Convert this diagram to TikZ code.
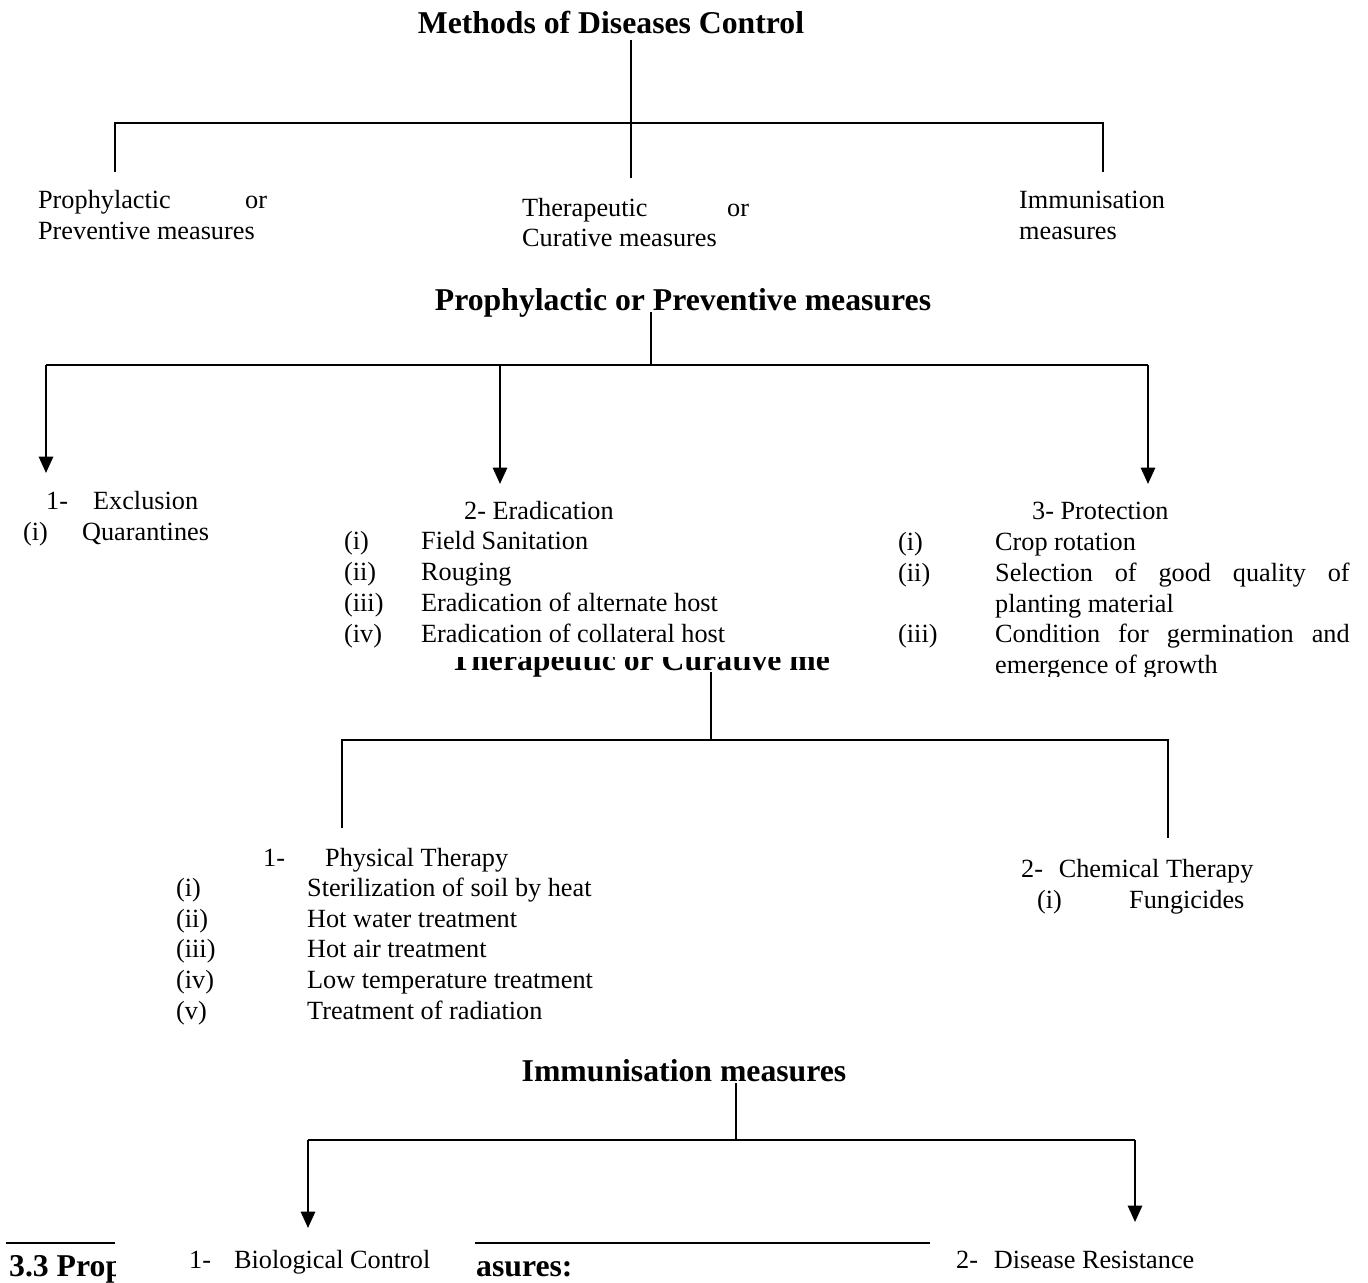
\documentclass[tikz,border=0pt]{standalone}
\usepackage{fontspec}
\setmainfont{Liberation Serif}
\usepackage{tikz}
\usetikzlibrary{arrows.meta}

\begin{document}
\begin{tikzpicture}[x=0.457pt,y=-0.457pt,line width=1.05pt,
  txt/.style={anchor=base west,inner sep=0pt,font=\fontsize{12}{14}\selectfont},
  ttl/.style={anchor=base,inner sep=0pt,font=\bfseries\fontsize{14.5}{17}\selectfont},
  arr/.style={-{Triangle[width=6.5pt,length=7.5pt]}}]
\useasboundingbox (0,0) rectangle (1368,1282);

% methods of control
\node[ttl] (methods) at (611,33) {Methods of Diseases Control};
\coordinate (m0) at (631,40);
\coordinate (m1) at (115,123); \coordinate (m2) at (631,123); \coordinate (m3) at (1103,123);
\coordinate (m1e) at (115,172); \coordinate (m2e) at (631,178); \coordinate (m3e) at (1103,172);
\draw (m0)--(m2e);
\draw (m1e)--(m1)--(m3)--(m3e);
\node[txt] (prophy) at (37,208) {\makebox[104.6pt][s]{Prophylactic\hfill or}};
\node[txt] (prophy2) at (37,239) {Preventive measures};
\node[txt] (thera) at (521,216) {\makebox[103.7pt][s]{Therapeutic\hfill or}};
\node[txt] (thera2) at (521,246) {Curative measures};
\node[txt] (immu) at (1018,208) {Immunisation};
\node[txt] (immu2) at (1018,239) {measures};

% prophylactic
\node[ttl] (prev) at (683,310) {Prophylactic or Preventive measures};
\coordinate (p0) at (651,312); \coordinate (p1) at (651,365);
\coordinate (pl) at (46,365); \coordinate (pm) at (500,365); \coordinate (pr) at (1148,365);
\coordinate (pla) at (46,473); \coordinate (pma) at (500,484); \coordinate (pra) at (1148,484);
\draw (p0)--(p1);
\draw (pl)--(pr);
\draw[arr] (pl)--(pla);
\draw[arr] (pm)--(pma);
\draw[arr] (pr)--(pra);

\node[txt] (excl1) at (45,509) {1-};
\node[txt] (excl) at (92,509) {Exclusion};
\node[txt] (quar1) at (22,540) {(i)};
\node[txt] (quar) at (81,540) {Quarantines};

% therapeutic title, half hidden
\begin{scope}
\clip (0,657) rectangle (830,700);
\node[ttl,anchor=base west] (cure) at (449,670) {Therapeutic or Curative me};
\end{scope}

\node[txt] (erad) at (463,519) {2- Eradication};
\foreach \r/\t [count=\k] in {(i)/Field Sanitation,(ii)/Rouging,(iii)/Eradication of alternate host,(iv)/Eradication of collateral host}
{ \node[txt] (eradl\k) at (343,519+30.75*\k) {\r};
  \node[txt] (eradt\k) at (420,519+30.75*\k) {\t};
}

\begin{scope}
\clip (830,487) rectangle (1368,676);
\node[txt] (prot) at (1031,519) {3- Protection};
\node[txt] (protl1) at (897,550) {(i)};
\node[txt] (prott1) at (994,550) {Crop rotation};
\node[txt] (protl2) at (897,581) {(ii)};
\node[txt] (prott2) at (994,581) {\makebox[162pt][s]{Selection of good quality of}};
\node[txt] (prott3) at (994,612) {planting material};
\node[txt] (protl4) at (897,642) {(iii)};
\node[txt] (prott4) at (994,642) {\makebox[162pt][s]{Condition for germination and}};
\node[txt] (prott5) at (994,673) {emergence of growth};
\end{scope}

% therapeutic
\coordinate (c0) at (711,672); \coordinate (c1) at (711,740);
\coordinate (cl) at (342,740); \coordinate (cr) at (1168,740);
\coordinate (cle) at (342,828); \coordinate (cre) at (1168,838);
\draw (c0)--(c1);
\draw (cle)--(cl)--(cr)--(cre);

\node[txt] (phys1) at (262,866) {1-};
\node[txt] (phys) at (324,866) {Physical Therapy};
\foreach \r/\t [count=\k] in {(i)/Sterilization of soil by heat,(ii)/Hot water treatment,(iii)/Hot air treatment,(iv)/Low temperature treatment,(v)/Treatment of radiation}
{ \node[txt] (physl\k) at (175,866+30.6*\k) {\r};
  \node[txt] (physt\k) at (306,866+30.6*\k) {\t};
}
\node[txt] (chem) at (1020,877) {2-\hspace{0.6em}Chemical Therapy};
\node[txt] (chemi) at (1036,908) {(i)};
\node[txt] (fung) at (1128,908) {Fungicides};

% immunisation
\node[ttl] (imm) at (684,1081) {Immunisation measures};
\coordinate (i0) at (736,1083); \coordinate (i1) at (736,1140);
\coordinate (il) at (308,1140); \coordinate (ir) at (1135,1140);
\coordinate (ila) at (308,1228); \coordinate (ira) at (1135,1222);
\draw (i0)--(i1);
\draw (il)--(ir);
\draw[arr] (il)--(ila);
\draw[arr] (ir)--(ira);

\draw (6,1243)--(115,1243);
\draw (475,1243)--(930,1243);
\begin{scope}
\clip (0,1230) rectangle (115,1282);
\node[ttl,anchor=base west] (sec) at (8,1276) {3.3 Prop};
\end{scope}
\node[ttl,anchor=base west] (sec2) at (475,1276) {asures:};

\node[txt] (bio1) at (188,1268) {1-};
\node[txt] (bio) at (233,1268) {Biological Control};
\node[txt] (res) at (955,1268) {2-\hspace{0.6em}Disease Resistance};
\end{tikzpicture}
\end{document}
